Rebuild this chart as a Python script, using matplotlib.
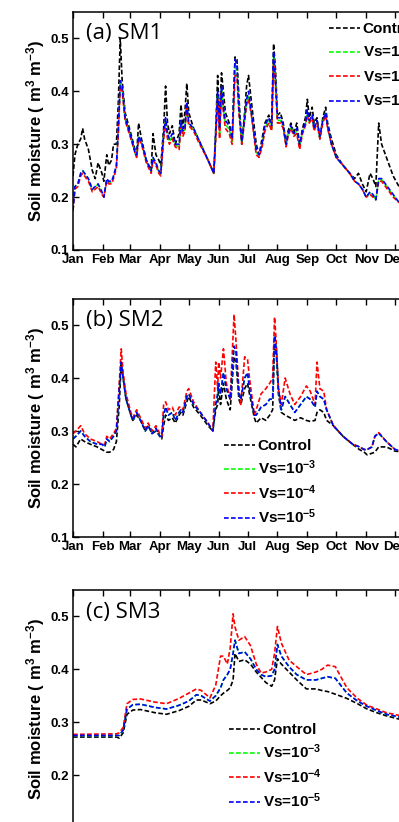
import matplotlib
matplotlib.use("Agg")
import matplotlib.pyplot as plt

plt.rcParams["font.family"] = ["Liberation Sans", "DejaVu Sans"]
plt.rcParams["font.weight"] = "bold"
plt.rcParams["axes.labelweight"] = "bold"
plt.rcParams["mathtext.fontset"] = "custom"
plt.rcParams["mathtext.rm"] = "Liberation Sans:bold"
plt.rcParams["mathtext.bf"] = "Liberation Sans:bold"
plt.rcParams["mathtext.default"] = "bf"
plt.rcParams["lines.dashed_pattern"] = [2.8, 1.4]

month_days = [0, 31, 59, 90, 120, 151, 181, 212, 243, 273, 304, 334]
month_labels = ["Jan", "Feb", "Mar", "Apr", "May", "Jun", "Jul", "Aug", "Sep", "Oct", "Nov", "Dec"]
series_labels = ["Control", "Vs=10$^{-3}$", "Vs=10$^{-4}$", "Vs=10$^{-5}$"]
series_colors = ["black", "#00ff00", "#ff0000", "#0000ff"]

# ---- panel (a) SM1 ----
sm1_days = [0, 2, 5, 8, 10, 12, 16, 20, 23, 26,
            30, 32, 35, 37, 40, 42, 45, 47, 49, 51,
            54, 60, 65, 66, 68, 71, 76, 81, 83, 86,
            89, 91, 94, 96, 98, 100, 103, 106, 110, 112,
            114, 116, 118, 120, 125, 130, 140, 146, 148, 150,
            152, 154, 156, 158, 162, 165, 168, 170, 172, 175,
            178, 180, 182, 185, 190, 193, 196, 199, 203, 206,
            208, 210, 212, 215, 218, 221, 223, 226, 229, 232,
            235, 238, 241, 243, 245, 248, 250, 253, 256, 259,
            262, 264, 268, 273, 280, 287, 292, 296, 300, 304,
            308, 311, 314, 317, 320, 326, 332, 338, 346, 355,
            364]
sm1_ctrl = [.24, .28, .30, .31, .33, .31, .29, .25, .235, .265,
            .245, .23, .28, .26, .27, .30, .30, .38, .50, .42,
            .36, .32, .285, .28, .34, .31, .27, .25, .32, .28,
            .27, .26, .33, .41, .34, .32, .335, .30, .32, .375,
            .33, .36, .415, .36, .33, .31, .27, .245, .33, .43,
            .34, .435, .40, .36, .34, .31, .465, .46, .39, .30,
            .36, .41, .43, .38, .30, .28, .31, .34, .355, .34,
            .49, .44, .355, .36, .34, .30, .325, .34, .32, .34,
            .30, .33, .35, .385, .35, .37, .34, .35, .31, .35,
            .37, .34, .31, .28, .26, .245, .235, .245, .225, .21,
            .245, .235, .22, .34, .30, .27, .24, .22, .205, .20,
            .195]
sm1_vs3 = [.175, .22, .225, .245, .25, .245, .233, .213, .22, .224,
           .208, .20, .233, .228, .228, .238, .258, .325, .415, .405,
           .348, .313, .28, .278, .313, .303, .268, .248, .273, .263,
           .248, .243, .315, .345, .315, .305, .315, .298, .295, .34,
           .32, .328, .375, .338, .328, .308, .27, .245, .315, .393,
           .32, .405, .365, .338, .328, .305, .445, .44, .365, .303,
           .348, .38, .393, .358, .285, .278, .298, .33, .345, .33,
           .468, .415, .345, .345, .333, .298, .318, .333, .318, .325,
           .295, .323, .338, .36, .343, .353, .328, .343, .313, .343,
           .358, .333, .30, .275, .26, .245, .23, .225, .215, .20,
           .208, .203, .195, .233, .233, .218, .203, .19, .185, .18,
           .18]
sm1_vs4 = [.175, .215, .22, .24, .245, .24, .23, .21, .215, .22,
           .205, .20, .23, .225, .225, .235, .255, .32, .41, .40,
           .345, .31, .28, .275, .31, .30, .265, .245, .27, .26,
           .245, .24, .31, .34, .31, .30, .31, .295, .29, .335,
           .315, .325, .37, .335, .325, .305, .27, .245, .31, .385,
           .31, .40, .36, .33, .32, .30, .43, .43, .36, .30,
           .345, .375, .385, .355, .28, .275, .295, .325, .34, .325,
           .46, .41, .34, .34, .33, .295, .315, .33, .315, .32,
           .29, .32, .335, .355, .34, .35, .325, .34, .31, .34,
           .355, .33, .30, .275, .26, .245, .23, .225, .215, .20,
           .205, .20, .195, .23, .23, .215, .20, .19, .185, .18,
           .18]
sm1_vs5 = [.175, .22, .225, .245, .25, .245, .235, .215, .22, .225,
           .21, .20, .235, .23, .23, .24, .26, .33, .42, .41,
           .35, .315, .28, .28, .315, .305, .27, .25, .275, .265,
           .25, .245, .32, .35, .32, .31, .32, .30, .30, .345,
           .325, .33, .38, .34, .33, .31, .27, .245, .32, .40,
           .33, .41, .37, .345, .335, .31, .46, .45, .37, .305,
           .35, .385, .40, .36, .29, .28, .30, .335, .35, .335,
           .475, .42, .35, .35, .335, .30, .32, .335, .32, .33,
           .30, .325, .34, .365, .345, .355, .33, .345, .315, .345,
           .36, .335, .30, .275, .26, .245, .23, .225, .215, .20,
           .21, .205, .195, .235, .235, .22, .205, .19, .185, .18,
           .18]

# ---- panel (b) SM2 ----
sm2_days = [0, 3, 8, 12, 18, 25, 30, 33, 35, 38,
            42, 45, 48, 50, 52, 55, 60, 62, 66, 70,
            75, 78, 82, 86, 90, 92, 94, 96, 99, 103,
            106, 110, 112, 114, 118, 120, 125, 132, 140, 145,
            148, 150, 151, 153, 156, 159, 163, 167, 169, 172,
            174, 178, 181, 183, 188, 190, 195, 200, 204, 207,
            209, 211, 213, 216, 220, 225, 230, 236, 242, 246,
            251, 253, 256, 260, 263, 270, 280, 290, 297, 302,
            305, 310, 313, 317, 325, 334, 345, 355, 364]
sm2_ctrl = [.275, .27, .285, .28, .275, .27, .265, .262, .26, .26,
            .265, .28, .35, .43, .40, .36, .33, .32, .33, .32,
            .30, .31, .295, .30, .29, .285, .31, .33, .32, .325,
            .315, .33, .335, .33, .355, .365, .345, .33, .31, .30,
            .34, .35, .38, .35, .39, .36, .34, .44, .43, .36,
            .35, .38, .39, .37, .325, .315, .325, .32, .33, .34,
            .46, .44, .37, .335, .33, .325, .32, .325, .32, .318,
            .32, .335, .34, .335, .32, .31, .29, .275, .265, .26,
            .255, .258, .26, .27, .27, .262, .26, .255, .25]
sm2_vs3 = [.285, .29, .30, .29, .28, .275, .275, .27, .285, .28,
           .29, .30, .38, .43, .40, .36, .33, .32, .335, .32,
           .30, .31, .295, .305, .29, .29, .33, .345, .33, .335,
           .32, .335, .34, .335, .365, .37, .35, .335, .315, .30,
           .35, .37, .39, .37, .41, .38, .36, .46, .45, .37,
           .36, .40, .41, .38, .33, .33, .345, .35, .36, .36,
           .48, .45, .38, .34, .365, .35, .335, .35, .365, .36,
           .345, .375, .365, .36, .34, .31, .29, .275, .27, .265,
           .265, .27, .29, .296, .28, .265, .26, .255, .25]
sm2_vs4 = [.295, .30, .31, .295, .285, .28, .275, .275, .29, .285,
           .295, .305, .39, .455, .41, .37, .335, .325, .34, .325,
           .305, .315, .30, .31, .295, .29, .35, .355, .34, .345,
           .33, .345, .345, .34, .375, .38, .355, .335, .315, .30,
           .43, .38, .43, .40, .455, .39, .36, .52, .47, .38,
           .35, .44, .435, .40, .33, .34, .37, .38, .39, .40,
           .515, .46, .38, .35, .40, .37, .35, .365, .385, .375,
           .35, .43, .38, .375, .34, .31, .29, .275, .27, .265,
           .265, .27, .29, .297, .28, .265, .26, .255, .25]
sm2_vs5 = [.285, .29, .30, .29, .28, .275, .275, .27, .285, .28,
           .29, .30, .38, .43, .40, .36, .33, .32, .335, .32,
           .30, .31, .295, .305, .29, .29, .33, .345, .33, .335,
           .32, .335, .34, .335, .365, .37, .35, .335, .315, .30,
           .35, .37, .39, .37, .41, .38, .36, .46, .45, .37,
           .36, .40, .41, .38, .33, .33, .345, .35, .36, .36,
           .48, .45, .38, .34, .365, .35, .335, .35, .365, .36,
           .345, .375, .365, .36, .34, .31, .29, .275, .27, .265,
           .265, .27, .29, .296, .28, .265, .26, .255, .25]

# ---- panel (c) SM3 ----
sm3_days = [0, 45, 48, 52, 56, 62, 70, 85, 97, 110,
            120, 128, 133, 142, 148, 153, 156, 160, 163, 166,
            168, 172, 178, 184, 190, 195, 200, 206, 209, 212,
            216, 224, 232, 242, 252, 258, 264, 272, 284, 295,
            305, 315, 325, 338, 350, 364]
sm3_ctrl = [.272, .272, .27, .28, .315, .323, .324, .318, .315, .322,
            .33, .342, .342, .335, .34, .35, .355, .36, .365, .38,
            .43, .415, .418, .41, .395, .385, .375, .368, .38, .42,
            .41, .395, .38, .363, .363, .36, .358, .353, .345, .335,
            .325, .318, .312, .306, .30, .295]
sm3_vs3 = [.275, .275, .275, .285, .325, .333, .334, .328, .325, .332,
           .34, .352, .35, .34, .35, .365, .38, .39, .40, .43,
           .455, .43, .433, .42, .40, .39, .386, .388, .40, .447,
           .425, .405, .39, .38, .38, .383, .386, .383, .355, .34,
           .33, .322, .315, .31, .305, .30]
sm3_vs4 = [.277, .278, .28, .29, .335, .343, .344, .338, .335, .345,
           .355, .363, .36, .346, .37, .425, .425, .41, .44, .505,
           .48, .455, .462, .445, .41, .393, .395, .40, .43, .481,
           .45, .4175, .405, .39, .395, .40, .408, .405, .365, .345,
           .332, .325, .318, .313, .308, .30]
sm3_vs5 = [.275, .275, .275, .285, .325, .333, .334, .328, .325, .332,
           .34, .352, .35, .34, .35, .365, .38, .39, .40, .43,
           .455, .43, .433, .42, .40, .39, .386, .388, .40, .447,
           .425, .405, .39, .38, .38, .383, .386, .383, .355, .34,
           .33, .322, .315, .31, .305, .30]

W, H = 399, 822
fig = plt.figure(figsize=(W / 100, H / 100), dpi=100)

# axes boxes in pixels (top, bottom); the figure is a crop so axes run past the edges
panels = [
    ("(a) SM1", 12, 250, sm1_days, [sm1_ctrl, sm1_vs3, sm1_vs4, sm1_vs5], (329, 22)),
    ("(b) SM2", 298.5, 537, sm2_days, [sm2_ctrl, sm2_vs3, sm2_vs4, sm2_vs5], (224, 439)),
    ("(c) SM3", 590, 828, sm3_days, [sm3_ctrl, sm3_vs3, sm3_vs4, sm3_vs5], (229, 723)),
]

for title, top, bottom, days, values, leg_xy in panels:
    ax = fig.add_axes([73 / W, 1 - bottom / H, 352 / W, (bottom - top) / H])
    for vals, lab, col in zip(values, series_labels, series_colors):
        ax.plot(days, vals, color=col, ls="--", lw=1.2, label=lab)
    ax.set_xlim(0, 365)
    ax.set_ylim(0.1, 0.55)
    ax.set_xticks(month_days)
    ax.set_xticklabels(month_labels)
    ax.set_yticks([0.1, 0.2, 0.3, 0.4, 0.5])
    ax.tick_params(direction="in", top=True, right=True, length=4, width=1,
                   labelsize=9.5, pad=3)
    for s in ax.spines.values():
        s.set_linewidth(1.1)
    ax.set_ylabel("Soil moisture ( m$^3$ m$^{-3}$)", fontsize=12)
    ax.yaxis.set_label_coords(-0.075, 0.5)
    ax.text(13 / 352, 1 - 22 / (bottom - top), title, transform=ax.transAxes,
            ha="left", va="center", fontsize=16, family="Open Sans", fontweight="normal")
    ax.legend(loc="upper left", bbox_to_anchor=(leg_xy[0] / W, 1 - leg_xy[1] / H),
              bbox_transform=fig.transFigure, frameon=False, fontsize=11,
              handlelength=2.0, handletextpad=0.2, labelspacing=0.38,
              borderpad=0, borderaxespad=0)

fig.savefig("out.png", dpi=100)
